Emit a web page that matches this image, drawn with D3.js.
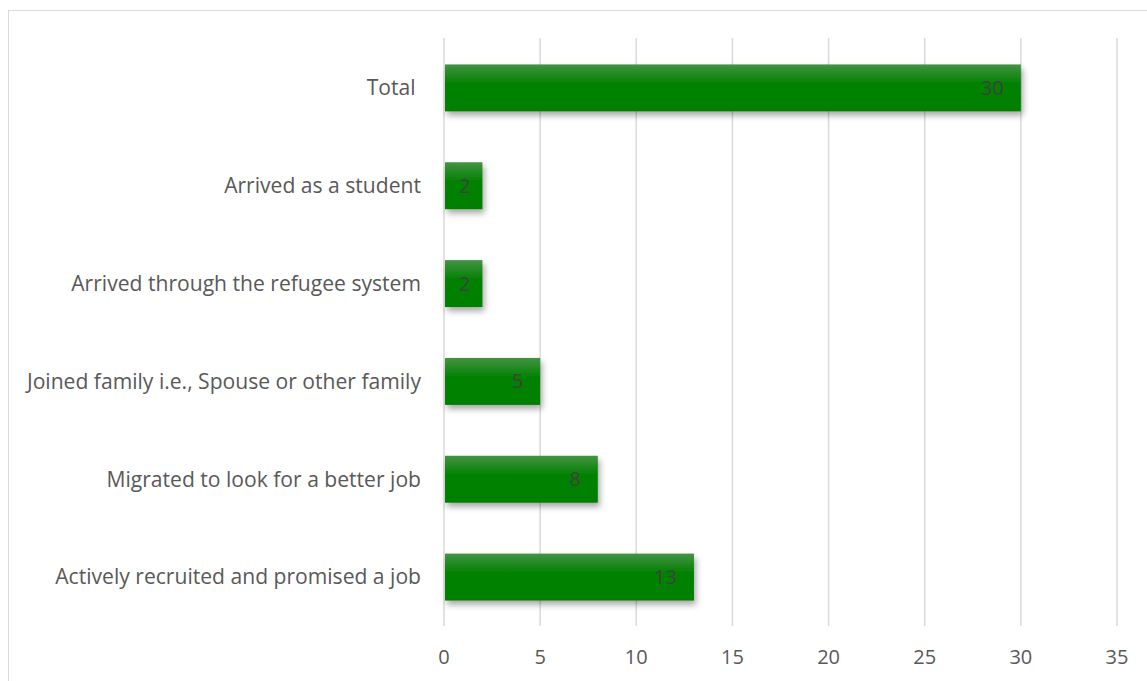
<!DOCTYPE html>
<html>
<head>
<meta charset="utf-8">
<script src="https://cdn.jsdelivr.net/npm/d3@7"></script>
<style>
  body { margin: 0; background: #fff; }
  svg { display: block; }
</style>
</head>
<body>
<div class="container"></div>
<script>
// categories top to bottom, as drawn
const categories = [
    'Total ',
    'Arrived as a student',
    'Arrived through the refugee system',
    'Joined family i.e., Spouse or other family',
    'Migrated to look for a better job',
    'Actively recruited and promised a job'
];
const values = [30, 2, 2, 5, 8, 13];
const xTicks = [0, 5, 10, 15, 20, 25, 30, 35];

const width = 1147, height = 681;
const margin = {top: 39, right: 30, bottom: 55, left: 444};
const plotRight = 1117;

const svg = d3.select('.container')
    .append('svg')
    .attr('width', width)
    .attr('height', height);

const defs = svg.append('defs');
const grad = defs.append('linearGradient')
    .attr('id', 'barGrad')
    .attr('x1', 0).attr('y1', 0).attr('x2', 0).attr('y2', 1);
grad.append('stop').attr('offset', '0%').attr('stop-color', '#449344');
grad.append('stop').attr('offset', '40%').attr('stop-color', '#038203');
grad.append('stop').attr('offset', '100%').attr('stop-color', '#007f00');

const shadow = defs.append('filter')
    .attr('id', 'shadow')
    .attr('x', '-10%').attr('y', '-20%')
    .attr('width', '130%').attr('height', '160%');
shadow.append('feDropShadow')
    .attr('dx', 2).attr('dy', 4)
    .attr('stdDeviation', 3)
    .attr('flood-color', '#000')
    .attr('flood-opacity', 0.35);

// chart border (runs off the right and bottom edges)
svg.append('rect')
    .attr('x', 8.5).attr('y', 10.5)
    .attr('width', 1300).attr('height', 800)
    .attr('fill', 'none')
    .attr('stroke', '#d9d9d9')
    .attr('stroke-width', 1);

const x = d3.scaleLinear()
    .domain([0, 35])
    .range([margin.left, plotRight]);

const y = d3.scaleBand()
    .domain(categories)
    .range([margin.top, height - margin.bottom - 0])
    .paddingInner(0.52)
    .paddingOuter(0.26);

// gridlines
svg.append('g')
    .selectAll('line')
    .data(xTicks)
    .join('line')
    .attr('x1', d => x(d)).attr('x2', d => x(d))
    .attr('y1', margin.top - 1)
    .attr('y2', 626)
    .attr('stroke', '#d9d9d9')
    .attr('stroke-width', 1.5);

// x tick labels
svg.append('g')
    .selectAll('text')
    .data(xTicks)
    .join('text')
    .attr('x', d => x(d))
    .attr('y', 657)
    .attr('dy', '0.35em')
    .attr('text-anchor', 'middle')
    .attr('font-family', 'Open Sans, sans-serif')
    .attr('font-size', 20)
    .attr('fill', '#595959')
    .text(d => d);

// category labels
svg.append('g')
    .selectAll('text')
    .data(categories)
    .join('text')
    .attr('x', 421)
    .attr('y', d => y(d) + y.bandwidth() / 2)
    .attr('dy', '0.35em')
    .attr('text-anchor', 'end')
    .attr('font-family', 'Open Sans, sans-serif')
    .attr('font-size', 21.1)
    .attr('fill', '#595959')
    .style('white-space', 'pre')
    .text(d => d);

// bars
svg.append('g')
    .selectAll('rect')
    .data(values)
    .join('rect')
    .attr('x', x(0) + 1)
    .attr('y', (d, i) => y(categories[i]))
    .attr('width', d => x(d) - x(0) - 1)
    .attr('height', y.bandwidth())
    .attr('fill', 'url(#barGrad)')
    .attr('filter', 'url(#shadow)');

// value labels inside end
svg.append('g')
    .selectAll('text')
    .data(values)
    .join('text')
    .attr('x', d => x(d) - (d < 3 ? 12 : 17))
    .attr('y', (d, i) => y(categories[i]) + y.bandwidth() / 2)
    .attr('dy', '0.35em')
    .attr('text-anchor', 'end')
    .attr('font-family', 'Open Sans, sans-serif')
    .attr('font-size', 20)
    .attr('fill', '#404040')
    .text(d => d);
</script>
</body>
</html>
